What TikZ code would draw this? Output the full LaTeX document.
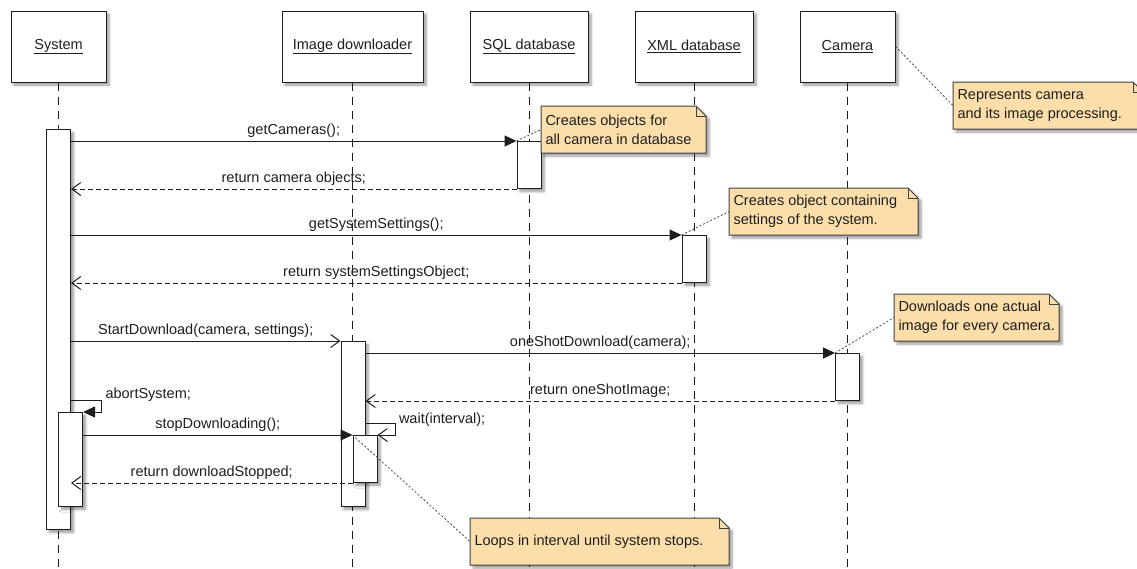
\documentclass[tikz,border=0pt]{standalone}
\usepackage{fontspec}
\setmainfont{Liberation Sans}
\usetikzlibrary{arrows.meta,calc,shadows.blur}

\definecolor{ink}{RGB}{30,30,30}
\definecolor{notefill}{RGB}{252,222,170}

% UML note: #1 name, #2 left x, #3 top y, #4 width, #5 text
\newcommand\umlnote[5]{%
  \path[notepaper] (#2,#3) -- ++(#4-10,0) -- ++(10,10) -- ++(0,37) -- ++(-#4,0) -- cycle;
  \draw[notefold] (#2+#4-10,#3) -- ++(0,10) -- ++(10,0);
  \node[notetext] (#1) at (#2,#3+23.5) {#5};
}

\begin{document}
\begin{tikzpicture}[x=1pt, y=-1pt, line width=1pt,
  font=\fontsize{14.5}{19}\selectfont, text=ink,
  shade/.style={blur shadow={shadow xshift=3pt, shadow yshift=-3pt,
      shadow blur radius=2.5pt, shadow blur steps=6, shadow opacity=40}},
  head/.style={draw=ink, fill=white, shade, minimum height=71pt, inner sep=0pt},
  act/.style={draw=ink, fill=white, shade, minimum width=24pt, anchor=north, inner sep=0pt},
  lifeline/.style={draw=ink, dash pattern=on 8pt off 6pt},
  call/.style={draw=ink, -{Triangle[length=12pt,width=11pt]}},
  async/.style={draw=ink, -{Straight Barb[length=9pt,width=13pt]}},
  reply/.style={draw=ink, dash pattern=on 5pt off 3pt, -{Straight Barb[length=9pt,width=13pt]}},
  msg/.style={anchor=base, yshift=7pt, inner sep=0pt},
  selfmsg/.style={anchor=base west, inner sep=0pt},
  notepaper/.style={fill=notefill, draw=ink!85, shade},
  notefold/.style={draw=ink!85, line width=0.6pt},
  notetext/.style={anchor=west, align=left, inner xsep=4pt, inner ysep=0pt},
  notelink/.style={draw=ink!80, line width=0.8pt, dash pattern=on 2pt off 2pt}]

\useasboundingbox (0,0) rectangle (1137,568);
\coordinate (floor) at (0,570);

% object heads
\node[head, minimum width=95pt]  (sys) at (58.5,46.5)  {\underline{System}};
\node[head, minimum width=141pt] (dl)  at (352.5,46.5) {\underline{Image downloader}};
\node[head, minimum width=118pt] (sql) at (529,46.5)   {\underline{SQL database}};
\node[head, minimum width=118pt] (xml) at (694,46.5)   {\underline{XML database}};
\node[head, minimum width=95pt]  (cam) at (847.5,46.5) {\underline{Camera}};

% lifelines
\draw[lifeline] (sys.south) -- (sys.south |- floor);
\draw[lifeline] (dl.south)  -- (dl.south |- floor);
\draw[lifeline] (sql.south) -- (sql.south |- floor);
\draw[lifeline] (xml.south) -- (xml.south |- floor);
\draw[lifeline] (cam.south) -- (cam.south |- floor);

% activations
\node[act, minimum height=400pt] (sysA) at (58.5,129) {};
\node[act, minimum height=47pt]  (sqlA) at (529,141)  {};
\node[act, minimum height=47pt]  (xmlA) at (694,235)  {};
\node[act, minimum height=165pt] (dlA)  at (353,341)  {};
\node[act, minimum height=47pt]  (camA) at (847.5,353) {};
\node[act, minimum height=94pt]  (sysB) at (70.5,412) {};
\node[act, minimum height=47pt]  (dlB)  at (365,435)  {};

% messages
\draw[call]  (sysA.east |- sqlA.north) -- node[msg] {getCameras();} (sqlA.north west);
\draw[reply] (sqlA.south west) -- node[msg] {return camera objects;} (sysA.east |- sqlA.south);
\draw[call]  (sysA.east |- xmlA.north) -- node[msg] {getSystemSettings();} (xmlA.north west);
\draw[reply] (xmlA.south west) -- node[msg] {return systemSettingsObject;} (sysA.east |- xmlA.south);
\draw[async] (sysA.east |- dlA.north) -- node[msg] {StartDownload(camera, settings);} (dlA.north west);
\draw[call]  (dlA.east |- camA.north) -- node[msg] {oneShotDownload(camera);} (camA.north west);
\draw[reply] (camA.south west) -- node[msg] {return oneShotImage;} (dlA.east |- camA.south);

\draw[call] ($(sysB.north east)+(-12,-12)$) -| ($(sysB.north east)+(18,0)$) -- (sysB.north east);
\node[selfmsg] (abortLbl) at ($(sysB.north east)+(22,-14)$) {abortSystem;};

\draw[call] (sysB.east |- dlB.north) -- node[msg] {stopDownloading();} (dlB.north west);

\draw[async] ($(dlB.north east)+(-12,-12)$) -| ($(dlB.north east)+(18,0)$) -- (dlB.north east);
\node[selfmsg] (waitLbl) at ($(dlB.north east)+(21,-12)$) {wait(interval);};

\draw[reply] (dlB.south west) -- node[msg] {return downloadStopped;} (sysA.east |- dlB.south);

% notes
\umlnote{nCam}{953}{82}{190}{Represents camera\\and its image processing.}
\umlnote{nSql}{541}{106}{165}{Creates objects for\\all camera in database}
\umlnote{nXml}{729}{188}{189}{Creates object containing\\settings of the system.}
\umlnote{nShot}{894}{294}{165}{Downloads one actual\\image for every camera.}
\umlnote{nLoop}{470}{518}{259}{Loops in interval until system stops.}

\draw[notelink] (cam.east) -- (nCam.west);
\draw[notelink] (sqlA.north west) -- (nSql.west);
\draw[notelink] (xmlA.north west) -- (nXml.west);
\draw[notelink] (camA.north west) -- (nShot.west);
\draw[notelink] (dlB.north west) -- (nLoop.west);
\end{tikzpicture}
\end{document}
